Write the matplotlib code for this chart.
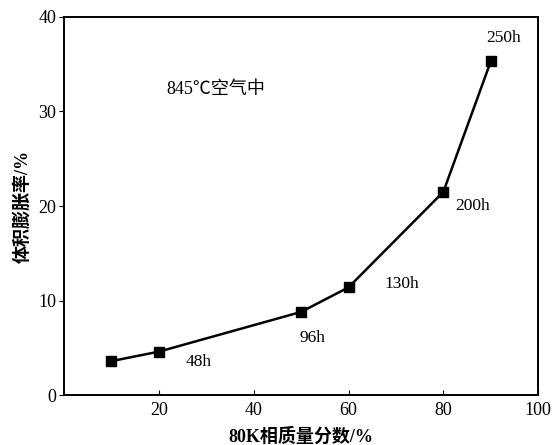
import matplotlib.pyplot as plt

plt.rcParams['font.family'] = ['Liberation Serif', 'Noto Sans CJK SC']

k_phase = [10, 20, 50, 60, 80, 90]
expansion = [3.6, 4.6, 8.8, 11.4, 21.5, 35.3]
hour_labels = ["48h", "96h", "130h", "200h", "250h"]
hour_pos = [(28.4, 3.5), (52.4, 6.0), (71.2, 11.8), (86.2, 20.0), (92.8, 37.8)]

fig = plt.figure(figsize=(5.56, 4.45), dpi=100)
ax = fig.add_axes([0.115, 0.112, 0.853, 0.85])

ax.plot(k_phase, expansion, color="black", lw=1.8, marker="s", ms=6.5)

for txt, (x, y) in zip(hour_labels, hour_pos):
    ax.text(x, y, txt, fontsize=12.5, va="center", ha="center")

ax.text(21.7, 32.3, "845℃空气中", fontsize=13, va="center", ha="left")

ax.set_xlim(0, 100)
ax.set_ylim(0, 40)
ax.set_xticks([20, 40, 60, 80, 100])
ax.set_yticks([0, 10, 20, 30, 40])
ax.tick_params(axis="x", direction="in", labelsize=13, pad=5)
ax.tick_params(axis="y", direction="out", labelsize=13, pad=2)
for s in ax.spines.values():
    s.set_linewidth(1.4)

ax.set_xlabel("80K相质量分数/%", fontsize=13, fontweight="bold", labelpad=6)
ax.set_ylabel("体积膨胀率/%", fontsize=13, fontweight="bold", labelpad=4)

fig.savefig("out.png", dpi=100)
